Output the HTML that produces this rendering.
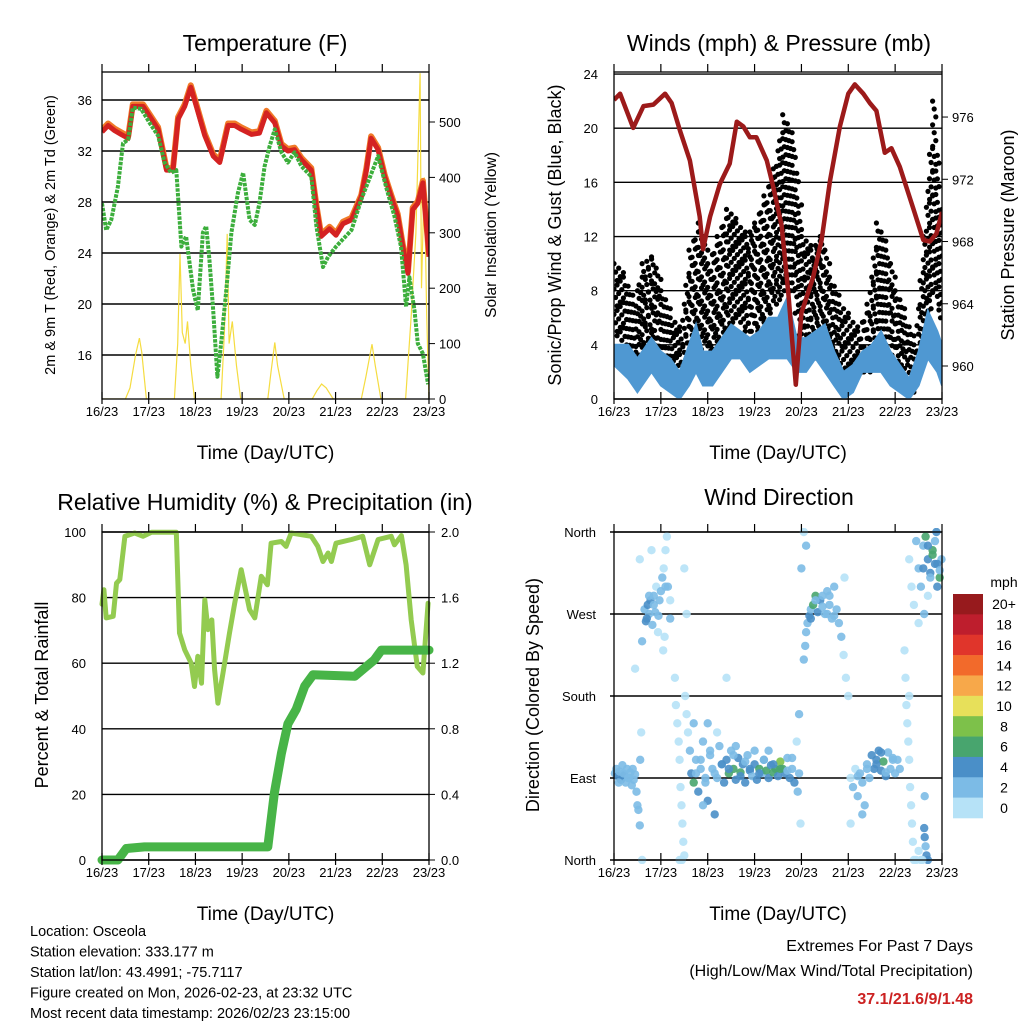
<!DOCTYPE html>
<html><head><meta charset="utf-8"><style>
html,body{margin:0;padding:0;background:#fff;}
svg{display:block;font-family:"Liberation Sans",Arial,sans-serif;}
</style></head><body>
<svg id="s" width="1024" height="1024" viewBox="0 0 1024 1024">
<rect width="1024" height="1024" fill="#fff"/>
<g id="g"></g>
</svg>
<script>
// ---------- Temperature data ----------
const tDays=[0,0.13,0.27,0.41,0.56,0.66,0.88,1.06,1.2,1.38,1.52,1.63,1.77,1.9,2.02,2.2,2.38,2.52,2.7,2.84,2.98,3.2,3.37,3.52,3.7,3.84,3.98,4.12,4.27,4.48,4.59,4.69,4.87,5.01,5.16,5.34,5.55,5.66,5.76,5.91,6.05,6.19,6.33,6.44,6.55,6.65,6.76,6.87,7.0];
const tempF=[33.5,34.0,33.6,33.3,33.0,35.5,35.5,34.5,33.7,30.5,30.5,34.5,35.5,37.0,35.5,33.2,31.6,31.1,34.0,34.0,33.7,33.3,33.4,35.0,34.2,32.4,32.0,32.1,31.3,30.5,27.6,25.3,25.9,25.4,26.3,26.6,28.4,30.5,33.0,32.1,30.0,28.4,26.9,24.5,22.4,27.4,27.9,29.5,23.7];
const tdDays=[0,0.09,0.2,0.34,0.45,0.56,0.66,0.84,1.02,1.2,1.34,1.48,1.59,1.7,1.8,1.95,2.05,2.16,2.23,2.3,2.38,2.47,2.55,2.66,2.77,2.91,3.02,3.16,3.27,3.37,3.48,3.59,3.7,3.84,3.98,4.12,4.27,4.48,4.59,4.73,4.84,5.01,5.34,5.55,5.91,6.08,6.26,6.4,6.51,6.58,6.69,6.76,6.87,6.98];
const dewF=[27.9,25.8,26.6,29.2,32.6,32.9,35.4,35.3,34.2,33.2,31.1,30.3,30.5,24.5,25.3,21.1,19.5,25.6,26.1,23.5,19.5,14.3,16.9,21.1,25.6,28.7,30.3,26.6,26.2,27.9,30.8,32.4,33.7,31.9,31.1,31.9,30.8,30.0,26.1,22.9,23.7,24.5,25.8,28.2,31.6,29.2,26.9,24.5,19.8,22.1,19.5,16.9,16.1,13.7];
const solDays=[0,0.5,0.6,0.72,0.8,0.85,0.95,1.55,1.62,1.67,1.72,1.78,1.83,1.9,1.98,2.55,2.62,2.68,2.72,2.79,2.88,2.97,3.55,3.62,3.7,3.76,3.9,4.5,4.6,4.7,4.8,4.95,5.55,5.65,5.78,5.85,5.97,6.5,6.62,6.72,6.81,6.84,6.9,6.95,7.0];
const solar=[0,0,20,80,110,85,0,0,100,262,120,100,140,60,0,0,120,298,100,140,60,0,0,50,102,60,0,0,15,27,20,0,0,40,99,60,0,0,150,300,588,200,400,150,0];
const tempTicks=[16,20,24,28,32,36];
const solarTicks=[0,100,200,300,400,500];
const dayLabels=["16/23","17/23","18/23","19/23","20/23","21/23","22/23","23/23"];
// ---------- Wind / pressure data ----------
const pDays=[0,0.13,0.41,0.63,0.84,1.09,1.23,1.41,1.62,1.83,1.9,2.05,2.26,2.47,2.62,2.76,2.9,3.04,3.26,3.4,3.58,3.72,3.88,4.0,4.25,4.43,4.61,4.82,5.0,5.14,5.32,5.46,5.6,5.78,5.92,6.1,6.38,6.6,6.74,6.88,7.0];
const pressure=[977.1,977.5,975.3,976.7,976.8,977.5,976.9,975.1,973.2,969.6,967.5,969.6,971.7,973.0,975.7,975.4,974.7,974.7,973.2,971.5,969.0,964.7,958.8,963.4,965.7,968.1,971.9,975.4,977.5,978.1,977.5,976.9,976.4,973.7,974.0,972.8,970.2,968.1,968.0,968.5,969.9];
const wDays=[0,0.3,0.5,0.8,1.0,1.2,1.4,1.6,1.75,1.9,2.1,2.3,2.5,2.7,2.9,3.1,3.3,3.5,3.7,3.9,4.1,4.3,4.5,4.7,4.9,5.1,5.3,5.5,5.7,5.9,6.1,6.3,6.5,6.7,6.9,7.0];
const windLo=[2.5,1.5,0.5,2,1,0.5,0,1,2,1,1,2,3,3,2,2.5,3,3,3,2,2,3,2,1,0,0.5,2,2,2,1,0.5,0,1,3,2,1];
const windHi=[4,4,3,4.5,3.5,3,2,4,5.5,3.5,3.5,4.5,5.5,5,4.5,5,6,6,7.5,4.5,4.5,5,5.5,3.5,2,2.5,3.5,4,5,3.5,2.5,1.5,3.5,6.5,5,4];
const gDays=[0,0.2,0.4,0.6,0.8,1.0,1.2,1.4,1.6,1.8,2.0,2.2,2.4,2.6,2.8,3.0,3.2,3.4,3.6,3.8,4.0,4.2,4.4,4.6,4.8,5.0,5.2,5.4,5.6,5.8,6.0,6.2,6.4,6.6,6.8,7.0];
const gustLo=[5,4,2,3,4,2,2,1,3,4,3,4,5,6,5,5,6,7,8,8,3,3,4,3,2,1,2,2,4,4,2,1,0.5,4,8,5];
const gustHi=[10,9,7,10,10.5,8,6,5,11,13,10,12,14,13,12,13,15,17,21,19,12,11,12,9,7,6,5,7,13,11,8,6,4,12,22,10];
const windTicks=[0,4,8,12,16,20,24];
const presTicks=[960,964,968,972,976];
// ---------- RH / precip ----------
const rhDays=[0,0.04,0.09,0.24,0.31,0.38,0.49,0.7,0.88,1.06,1.59,1.66,1.77,1.91,1.98,2.05,2.13,2.2,2.27,2.35,2.41,2.48,2.59,2.73,2.84,2.98,3.16,3.27,3.41,3.54,3.62,3.84,3.94,4.05,4.48,4.62,4.73,4.84,4.91,5.01,5.34,5.58,5.73,5.91,6.19,6.26,6.41,6.51,6.62,6.75,6.87,6.98];
const rh=[78,82.4,73.8,74.3,84.4,85.5,98.7,99.7,98.7,99.9,99.9,69.2,64.1,60,52.9,62.1,53.9,79.3,70.2,73.2,58,47.8,57,69.2,78.3,88.5,76.3,73.8,86.5,83.9,96.6,97.1,95.6,99.7,98.7,95.6,91,93.6,91,96.6,97.7,98.7,90,97.7,98.7,96.1,98.9,90,73.2,59,57,78.3];
const prDays=[0,0.34,0.52,0.91,3.55,3.69,3.84,3.98,4.16,4.34,4.52,5.41,5.62,5.83,5.98,7.0];
const precip=[0,0,0.07,0.08,0.08,0.41,0.65,0.83,0.92,1.06,1.13,1.12,1.17,1.22,1.28,1.28];
const rhTicks=[0,20,40,60,80,100];
const prTicks=["0.0","0.4","0.8","1.2","1.6","2.0"];
// ---------- Wind direction ----------
const dirDays=[0.02,0.05,0.08,0.12,0.15,0.18,0.22,0.25,0.28,0.32,0.35,0.38,0.42,0.45,0.48,0.5,0.52,0.55,0.56,0.58,0.6,
0.6,0.65,0.68,0.72,0.75,0.78,0.82,0.85,0.88,0.9,0.94,0.97,1.0,1.03,1.06,1.1,1.13,1.15,1.2,0.45,0.55,0.8,1.05,1.08,
1.3,1.32,1.35,1.38,1.4,1.42,1.44,1.46,1.48,1.5,1.45,1.4,1.52,1.55,1.58,1.55,1.5,
1.62,1.65,1.7,1.75,1.8,1.85,1.9,1.95,2.0,2.05,2.1,2.15,2.2,2.25,2.3,2.35,2.4,2.45,2.5,2.55,2.6,2.65,2.7,2.75,2.8,2.85,2.9,2.95,3.0,3.05,3.1,3.15,3.2,3.25,3.3,3.35,3.4,3.45,3.5,3.55,3.6,3.65,3.7,3.75,3.8,3.85,1.7,1.9,2.2,2.4,3.9,3.95,3.92,3.95,3.98,2.0,2.6,3.0,3.3,
4.05,4.08,4.1,4.13,4.17,4.2,4.25,4.3,4.35,4.4,4.45,4.5,4.55,4.6,4.65,4.7,4.75,4.8,4.85,4.9,4.95,5.0,4.92,4.1,4.0,4.05,
5.05,5.1,5.15,5.2,5.25,5.3,5.35,5.4,5.45,5.5,5.55,5.6,5.65,5.7,5.75,5.8,5.85,5.9,5.95,6.0,6.05,6.1,5.05,5.3,
6.2,6.22,6.24,6.26,6.28,6.3,6.32,6.34,6.36,6.38,6.4,6.45,6.5,6.3,
6.3,6.35,6.4,6.45,6.5,6.55,6.6,6.65,6.7,6.75,6.8,6.85,6.9,6.95,6.99,6.62,6.7,6.88,6.5,
6.62,6.63,6.65,6.67,6.7,6.55,6.58,6.63,
0.1,0.2,0.3,0.4,0.7,0.75,0.85,0.95,1.1,1.2,1.75,1.85,1.95,2.05,2.15,2.3,2.45,2.55,2.7,2.8,2.9,3.1,3.2,3.4,3.55,3.7,3.8,4.2,4.3,4.45,4.55,4.6,4.7,5.2,5.4,5.6,5.7,5.8,5.95,6.6,6.7,6.8,6.9,6.95,6.75,6.85];
const dirDeg=[95,100,92,97,88,104,93,85,100,90,96,82,88,94,75,60,55,38,110,140,0,
240,275,262,280,270,285,258,290,272,300,250,285,295,310,320,340,355,300,265,210,330,340,230,245,
200,170,150,130,110,80,60,40,20,5,0,0,180,160,140,270,320,
120,95,85,110,75,100,130,90,65,115,100,50,90,125,105,85,110,95,120,100,88,112,96,105,85,115,98,92,105,88,100,95,110,98,90,104,96,100,92,108,100,95,112,90,100,85,150,60,140,200,130,95,75,160,40,150,125,120,120,
220,235,250,260,268,275,280,290,272,285,290,270,295,280,265,300,275,260,245,225,200,180,310,345,320,360,
90,80,100,70,95,85,60,105,90,115,100,110,120,98,108,92,118,100,112,95,110,100,40,50,
230,200,170,150,130,110,80,60,40,20,0,0,10,180,
330,300,280,350,320,300,345,355,330,315,340,325,300,310,330,270,290,360,260,
35,25,15,5,0,0,0,70,
85,95,90,100,265,290,280,268,300,285,95,110,85,120,95,105,100,115,92,108,100,95,110,105,100,98,112,265,285,278,270,290,268,92,100,105,118,96,110,320,345,335,325,318,310,350];
const dirSpd=[2,3,4,3,4,2,4,3,2,3,2,3,2,2,3,2,2,2,2,1,1,
2,3,4,4,3,4,3,3,2,1,1,2,2,2,1,1,1,2,2,1,1,1,1,1,
1,1,1,1,1,1,1,1,1,1,1,1,1,1,1,1,1,
3,4,6,2,4,3,2,3,4,2,2,4,3,2,3,4,4,6,3,6,4,4,6,4,4,3,4,3,4,4,6,3,4,6,4,4,6,6,4,8,6,4,3,4,3,4,2,3,1,1,1,2,3,2,1,2,2,2,3,
2,2,2,3,4,3,6,6,4,4,3,3,2,2,2,2,2,2,2,1,1,1,1,3,3,1,
1,2,1,2,2,2,2,3,2,4,4,4,4,4,6,4,3,2,2,2,3,2,1,2,
1,1,1,1,1,1,1,1,1,1,1,1,1,1,
1,1,1,2,2,2,3,6,4,4,6,4,4,6,3,2,1,4,1,
4,4,3,4,4,1,1,3,
3,2,3,2,4,3,2,2,2,1,2,3,2,3,2,4,4,2,4,3,4,4,2,4,6,3,2,4,2,3,2,2,2,2,2,4,4,3,2,4,4,6,4,3,2,2];
const dirLabels=["North","East","South","West","North"];
const barLabels=["20+","18","16","14","12","10","8","6","4","2","0"];
const barColors=["#971a1d","#be1e2d","#e0352b","#f26a2b","#f7a84a","#e7e05a","#7dc14a","#48a56e","#4a8fc8","#7cbbe6","#b6e2f7"];

const NS="http://www.w3.org/2000/svg";
const G=document.getElementById('g');
function el(tag,attrs,parent){const e=document.createElementNS(NS,tag);for(const k in attrs)e.setAttribute(k,attrs[k]);(parent||G).appendChild(e);return e;}
function txt(x,y,s,size,anchor,parent,rot,extra){const t=el('text',{x:x,y:y,'font-size':size,'text-anchor':anchor||'middle',fill:'#000'},parent);if(rot)t.setAttribute('transform','rotate(-90 '+x+' '+y+')');if(extra)for(const k in extra)t.setAttribute(k,extra[k]);t.textContent=s;return t;}
function pathFrom(xs,ys,fx,fy){let d='';for(let i=0;i<xs.length;i++)d+=(i?'L':'M')+fx(xs[i]).toFixed(1)+','+fy(ys[i]).toFixed(1);return d;}

function frame(name,x0,y0,x1,y1,fx){
  const g=el('g',{});
  
  
  el('rect',{x:x0,y:y0,width:x1-x0,height:y1-y0,fill:'none',stroke:'#000','stroke-width':1.3},g);
  for(let d=0;d<=7;d++){const x=fx(d);
    el('line',{x1:x,y1:y1,x2:x,y2:y1-7,stroke:'#000','stroke-width':1.2},g);
    el('line',{x1:x,y1:y0,x2:x,y2:y0-8,stroke:'#000','stroke-width':1.2},g);
    el('line',{x1:x,y1:y1,x2:x,y2:y1+5,stroke:'#000','stroke-width':1.2},g);
    const t=txt(x,y1+17,dayLabels[d],13,'middle',g);
    
    
  }
  const xt=txt((x0+x1)/2,y1+60,'Time (Day/UTC)',19,'middle',g);
  
  
  return g;
}
function clip(id,x0,y0,x1,y1){const c=el('clipPath',{id:id});el('rect',{x:x0,y:y0,width:x1-x0,height:y1-y0},c);}

// ===== Panel 1: Temperature =====
(function(){
  const x0=102,x1=429,y0=72,y1=399;
  const fx=d=>x0+d*(x1-x0)/7, fy=v=>355-(v-16)*12.75, fs=s=>y1-s*0.554;
  clip('c1',x0,y0,x1,y1);
  const g=el('g',{});
  
  
  const t=txt(265,51,'Temperature (F)',23,'middle',g);
  
  
  tempTicks.forEach(v=>{const y=fy(v);
    el('line',{x1:x0,y1:y,x2:x1,y2:y,stroke:'#000','stroke-width':1.4},g);
    const l=txt(x0-10,y+5,String(v),13,'end',g);
    
    });
  solarTicks.forEach(v=>{const y=fs(v);
    el('line',{x1:x1,y1:y,x2:x1+6,y2:y,stroke:'#000'},g);
    const l=txt(x1+10,y+5,String(v),13,'start',g);
    
    });
  const cg=el('g',{'clip-path':'url(#c1)'},g);
  const sl=el('path',{d:pathFrom(solDays,solar,fx,fs),fill:'none',stroke:'#f5dc40','stroke-width':1.2},cg);
  
  
  const o=el('path',{d:pathFrom(tDays,tempF,fx,fy),fill:'none',stroke:'#f07a28','stroke-width':6,'stroke-linejoin':'round',transform:'translate(0,-2)'},cg);
  
  
  const r=el('path',{d:pathFrom(tDays,tempF,fx,fy),fill:'none',stroke:'#d42222','stroke-width':5,'stroke-linejoin':'round'},cg);
  
  
  const gr=el('path',{d:pathFrom(tdDays,dewF,fx,fy),fill:'none',stroke:'#3cae3c','stroke-width':4,'stroke-dasharray':'3.5 1.2','stroke-linejoin':'round'},cg);
  
  
  frame('temperature',x0,y0,x1,y1,fx);
  const a=txt(55,235,'2m & 9m T (Red, Orange) & 2m Td (Green)',14.5,'middle',g,true);
  
  
  const b=txt(496,235,'Solar Insolation (Yellow)',15.5,'middle',g,true);
  
  
})();

// ===== Panel 2: Winds & Pressure =====
(function(){
  const x0=614,x1=942,y0=72,y1=399;
  const fx=d=>x0+d*(x1-x0)/7, fy=v=>y1-v*13.54, fp=p=>366-(p-960)*15.56;
  clip('c2',x0,y0,x1,y1);
  const g=el('g',{});
  
  
  const t=txt(779,51,'Winds (mph) & Pressure (mb)',23,'middle',g);
  
  
  windTicks.forEach(v=>{const y=fy(v);
    el('line',{x1:x0,y1:y,x2:x1,y2:y,stroke:'#000','stroke-width':1.4},g);
    const l=txt(x0-16,y+5,String(v),13,'end',g);
    
    });
  presTicks.forEach(v=>{const y=fp(v);
    el('line',{x1:x1,y1:y,x2:x1+6,y2:y,stroke:'#000'},g);
    const l=txt(x1+10,y+5,String(v),13,'start',g);
    
    });
  const cg=el('g',{'clip-path':'url(#c2)'},g);
  const dg=el('g',{fill:'#000'},cg);
  
  
  for(let i=0;i<gDays.length-1;i++){
    const xa=fx(gDays[i]),xb=fx(gDays[i+1]);
    for(let k=0;k<3;k++){const f=k/3,x=xa+(xb-xa)*f;
      const lo=gustLo[i]+(gustLo[i+1]-gustLo[i])*f, hi=gustHi[i]+(gustHi[i+1]-gustHi[i])*f;
      const ya=fy(hi),yb=fy(lo);const n=Math.max(1,Math.round((yb-ya)/8));
      for(let j=0;j<=n;j++){el('circle',{cx:(x+((j+k)%3)*1.6).toFixed(1),cy:(ya+(yb-ya)*j/n).toFixed(1),r:2.6},dg);}
    }
  }
  let d='';for(let i=0;i<wDays.length;i++)d+=(i?'L':'M')+fx(wDays[i]).toFixed(1)+','+fy(windHi[i]).toFixed(1);
  for(let i=wDays.length-1;i>=0;i--)d+='L'+fx(wDays[i]).toFixed(1)+','+fy(windLo[i]).toFixed(1);
  const w=el('path',{d:d+'Z',fill:'#4f98d2',stroke:'#4f98d2','stroke-width':2},cg);
  
  
  const p=el('path',{d:pathFrom(pDays,pressure,fx,fp),fill:'none',stroke:'#9c1a1a','stroke-width':4.5,'stroke-linejoin':'round'},cg);
  
  
  frame('winds',x0,y0,x1,y1,fx);
  const a=txt(561,235,'Sonic/Prop Wind & Gust (Blue, Black)',18,'middle',g,true);
  
  
  const b=txt(1014,235,'Station Pressure (Maroon)',18,'middle',g,true);
  
  
})();

// ===== Panel 3: RH & precip =====
(function(){
  const x0=102,x1=429,y0=532,y1=860;
  const fx=d=>x0+d*(x1-x0)/7, fy=v=>y1-v*(y1-y0)/100, fp=v=>y1-v*(y1-y0)/2;
  clip('c3',x0-8,y0-8,x1+8,y1+8);
  const g=el('g',{});
  
  
  const t=txt(265,510,'Relative Humidity (%) & Precipitation (in)',23,'middle',g);
  
  
  rhTicks.forEach(v=>{const y=fy(v);
    el('line',{x1:x0,y1:y,x2:x1,y2:y,stroke:'#000','stroke-width':1.4},g);
    const l=txt(x0-16,y+5,String(v),13,'end',g);
    
    });
  prTicks.forEach(v=>{const y=fp(parseFloat(v));
    el('line',{x1:x1,y1:y,x2:x1+6,y2:y,stroke:'#000'},g);
    const l=txt(x1+12,y+5,v,13,'start',g);
    
    });
  const cg=el('g',{'clip-path':'url(#c3)'},g);
  const r=el('path',{d:pathFrom(rhDays,rh,fx,fy),fill:'none',stroke:'#93cb50','stroke-width':5,'stroke-linejoin':'round','stroke-linecap':'round'},cg);
  
  
  const p=el('path',{d:pathFrom(prDays,precip,fx,fp),fill:'none',stroke:'#47b447','stroke-width':9,'stroke-linejoin':'round','stroke-linecap':'round'},cg);
  
  
  frame('humidity',x0,y0,x1,y1,fx);
  const a=txt(48,695,'Percent & Total Rainfall',18,'middle',g,true);
  
  
})();

// ===== Panel 4: Wind direction =====
(function(){
  const x0=614,x1=942,y0=532,y1=860;
  const fx=d=>x0+d*(x1-x0)/7, fy=v=>y1-v*(y1-y0)/360;
  clip('c4',x0-4,y0-4,x1+4,y1+4);
  const g=el('g',{});
  
  
  const t=txt(779,505,'Wind Direction',23,'middle',g);
  
  
  dirLabels.forEach((s,i)=>{const y=fy(i*90);
    el('line',{x1:x0-4,y1:y,x2:x1,y2:y,stroke:'#000','stroke-width':1.4},g);
    const l=txt(x0-18,y+5,s,13,'end',g);
    
    });
  const cg=el('g',{'clip-path':'url(#c4)'},g);
  
  
  const colorFor=s=>barColors[10-Math.min(10,Math.floor(s/2))];
  for(let i=0;i<dirDays.length;i++){
    const c=el('circle',{cx:fx(dirDays[i]).toFixed(1),cy:fy(dirDeg[i]).toFixed(1),r:4.2,fill:colorFor(dirSpd[i]),'fill-opacity':0.9},cg);
    
    
  }
  frame('wind-direction',x0,y0,x1,y1,fx);
  const a=txt(539,695,'Direction (Colored By Speed)',18,'middle',g,true);
  
  
  const cb=el('g',{},g);
  
  
  txt(1004,587,'mph',14,'middle',cb);
  const h=(818-594)/barColors.length;
  barColors.forEach((c,i)=>{el('rect',{x:953,y:594+i*h,width:30,height:h+0.3,fill:c},cb);
    const l=txt(1004,594+i*h+h/2+5,barLabels[i],14,'middle',cb);
    
    });
})();

// ===== Footer text =====
(function(){
  const g=el('g',{});
  
  
  ["Location: Osceola","Station elevation: 333.177 m","Station lat/lon: 43.4991; -75.7117","Figure created on Mon, 2026-02-23, at 23:32 UTC","Most recent data timestamp: 2026/02/23 23:15:00"].forEach((s,i)=>txt(30,936+i*20.5,s,14.5,'start',g));
  const e=el('g',{});
  
  
  txt(973,951,'Extremes For Past 7 Days',16,'end',e);
  txt(973,976,'(High/Low/Max Wind/Total Precipitation)',16,'end',e);
  txt(973,1004,'37.1/21.6/9/1.48',16,'end',e,false,{fill:'#cc2222','font-weight':'bold'});
})();
</script>
</body></html>
